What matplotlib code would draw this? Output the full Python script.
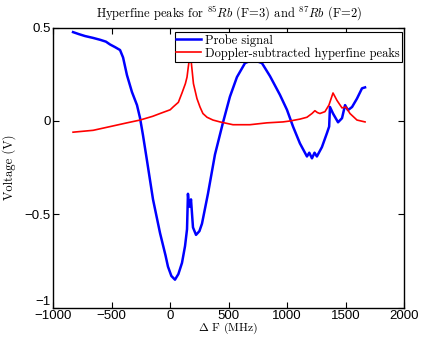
"""Rb hyperfine peaks: probe signal and Doppler-subtracted signal vs detuning."""

import matplotlib
matplotlib.use("Agg")
import matplotlib.pyplot as plt

plt.rcParams["mathtext.fontset"] = "cm"
plt.rcParams["font.family"] = "serif"
plt.rcParams["font.serif"] = ["cmr10", "DejaVu Serif"]
plt.rcParams["axes.unicode_minus"] = True

# probe signal (MHz, V)
probe_f = [-831, -780, -729, -660, -600, -550, -515, -470, -429, -403, -370,
           -327, -284, -258, -233, -199, -147, -87, -40, -19, 10, 41, 70, 101,
           127, 144, 152, 160, 169, 178, 195, 221, 250, 272, 323, 383, 451,
           511, 571, 640, 708, 785, 854, 939, 999, 1051, 1110, 1170, 1190,
           1213, 1235, 1255, 1298, 1341, 1360, 1367, 1393, 1436, 1470, 1496,
           1521, 1556, 1598, 1641, 1667]
probe_v = [0.476, 0.465, 0.455, 0.445, 0.435, 0.425, 0.41, 0.395, 0.38, 0.34,
           0.246, 0.155, 0.085, 0.016, -0.075, -0.21, -0.42, -0.60, -0.72,
           -0.78, -0.83, -0.85, -0.82, -0.76, -0.67, -0.58, -0.39, -0.45,
           -0.46, -0.42, -0.57, -0.61, -0.59, -0.55, -0.39, -0.18, -0.01,
           0.13, 0.235, 0.31, 0.328, 0.31, 0.24, 0.14, 0.06, -0.03, -0.12,
           -0.19, -0.17, -0.20, -0.17, -0.19, -0.14, -0.065, -0.03, 0.075,
           0.04, -0.007, 0.015, 0.085, 0.058, 0.075, 0.12, 0.175, 0.18]

# Doppler-subtracted hyperfine peaks (MHz, V)
peaks_f = [-831, -659, -514, -370, -258, -150, -87, 0, 25, 70, 101, 130, 144,
           155, 163, 171, 178, 186, 199, 229, 255, 280, 315, 366, 426, 537,
           682, 827, 965, 1025, 1110, 1170, 1213, 1238, 1260, 1281, 1324,
           1358, 1393, 1427, 1470, 1504, 1538, 1598, 1667]
peaks_v = [-0.06, -0.05, -0.03, -0.01, 0.005, 0.025, 0.04, 0.06, 0.075, 0.1,
           0.15, 0.2, 0.235, 0.29, 0.326, 0.35, 0.33, 0.28, 0.2, 0.12, 0.075,
           0.04, 0.02, 0.005, -0.005, -0.02, -0.02, -0.01, -0.005, 0.0, 0.01,
           0.02, 0.04, 0.055, 0.045, 0.04, 0.05, 0.085, 0.15, 0.11, 0.07,
           0.075, 0.04, 0.005, -0.005]

xticks = [-1000, -500, 0, 500, 1000, 1500, 2000]
yticks = [-1, -0.5, 0, 0.5]
ytick_labels = ["\u22121", "\u22120.5", "0", "0.5"]


def main():
    fig = plt.figure(figsize=(4.23, 3.37), dpi=100)
    ax = fig.add_axes([0.126, 0.087, 0.829, 0.831])

    ax.plot(probe_f, probe_v, color="#0000ff", linewidth=1.8, label="Probe signal")
    ax.plot(peaks_f, peaks_v, color="#ff0000", linewidth=1.2,
            label="Doppler-subtracted hyperfine peaks")

    ax.set_xlim(-1000, 2000)
    ax.set_ylim(-1, 0.5)
    ax.set_xticks(xticks)
    ax.set_xticklabels([f"{t}".replace("-", "\u2212") for t in xticks])
    ax.set_yticks(yticks)
    ax.set_yticklabels(ytick_labels)
    for lab in ax.get_xticklabels() + ax.get_yticklabels():
        lab.set_family("Liberation Sans")
        lab.set_fontsize(9.5)
    # MATLAB nudges the bottom y label up so it clears the x labels
    ax.get_yticklabels()[0].set_verticalalignment("bottom")
    ax.tick_params(direction="in", top=True, right=True, length=4, width=0.8)
    ax.tick_params(axis="x", pad=1.5)
    ax.tick_params(axis="y", pad=2)
    for sp in ax.spines.values():
        sp.set_linewidth(1.0)

    ax.set_xlabel(r"$\Delta$ F (MHz)", fontsize=8.5, labelpad=-1)
    ax.set_ylabel("Voltage (V)", fontsize=9, labelpad=6)
    ax.set_title(r"Hyperfine peaks for $^{85}Rb$ (F=3) and $^{87}Rb$ (F=2)",
                 fontsize=9, pad=7)

    leg = ax.legend(loc="upper right", bbox_to_anchor=(0.994, 0.984),
                    borderaxespad=0, fontsize=9, fancybox=False, framealpha=1,
                    edgecolor="black", labelspacing=0.05, borderpad=0.15,
                    handlelength=2.0, handletextpad=0.3)
    leg.get_frame().set_linewidth(0.8)

    fig.savefig("out.png", dpi=100)
    plt.close(fig)


if __name__ == "__main__":
    main()
